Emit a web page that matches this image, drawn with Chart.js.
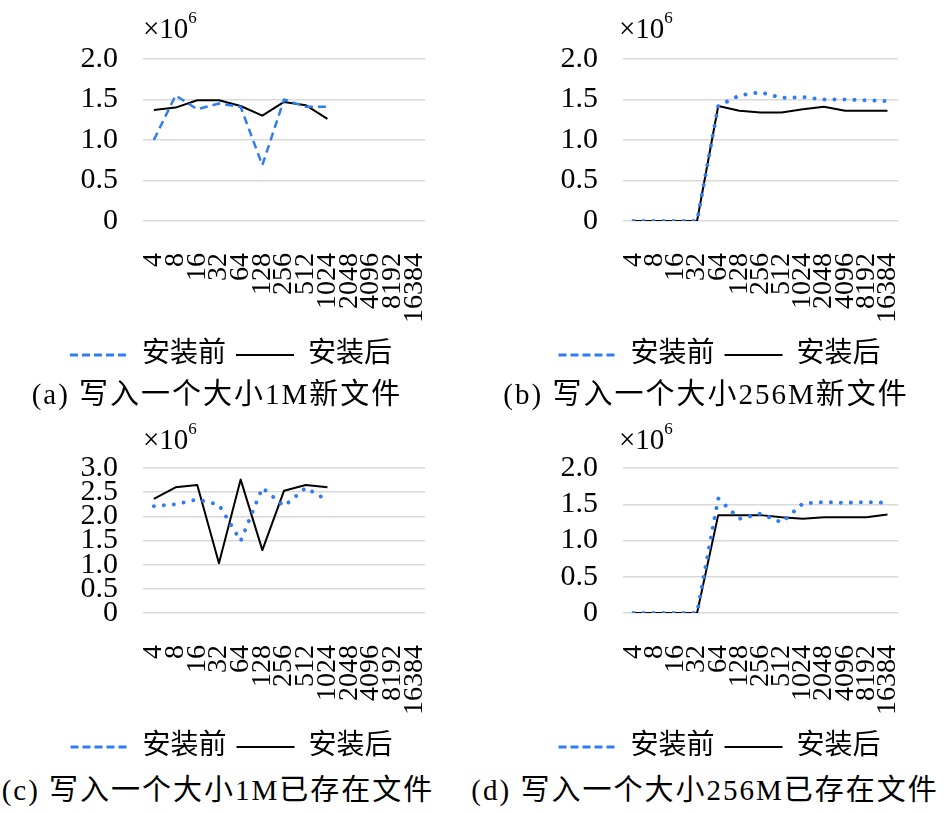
<!DOCTYPE html>
<html><head><meta charset="utf-8">
<script src="https://cdn.jsdelivr.net/npm/chart.js@4.4.0/dist/chart.umd.min.js"></script>
<style>
body{margin:0;background:#fff;}
#wrap{position:relative;width:946px;height:813px;overflow:hidden;background:#fff;}
canvas{position:absolute;}
.exp{position:absolute;font-family:'Liberation Serif','Times New Roman',serif;font-size:29px;line-height:1;color:#000;white-space:nowrap;}
.exp sup{font-size:17px;vertical-align:top;position:relative;top:-5px;}
.cap{position:absolute;font-family:'Liberation Serif','Noto Sans CJK SC',serif;font-size:29px;line-height:1;white-space:nowrap;transform:translateX(-50%);color:#000;letter-spacing:2px;}
</style></head>
<body>
<div id="wrap">
  <canvas id="ca" width="473" height="379" style="left:0;top:0"></canvas>
  <canvas id="cb" width="473" height="379" style="left:473px;top:0"></canvas>
  <canvas id="cc" width="473" height="362" style="left:0;top:409px"></canvas>
  <canvas id="cd" width="473" height="362" style="left:473px;top:409px"></canvas>
  <div class="exp" style="left:143px;top:14px">×10<sup>6</sup></div>
  <div class="exp" style="left:619px;top:14px">×10<sup>6</sup></div>
  <div class="exp" style="left:143px;top:425px">×10<sup>6</sup></div>
  <div class="exp" style="left:619px;top:425px">×10<sup>6</sup></div>
  <div class="cap" style="left:217px;top:380px">(a) 写入一个大小1M新文件</div>
  <div class="cap" style="left:706px;top:380px">(b) 写入一个大小256M新文件</div>
  <div class="cap" style="left:218px;top:776px">(c) 写入一个大小1M已存在文件</div>
  <div class="cap" style="left:705px;top:776px">(d) 写入一个大小256M已存在文件</div>
</div>
<script>
const categories = ['4','8','16','32','64','128','256','512','1024','2048','4096','8192','16384'];
const seriesNames = ['安装前','安装后'];
// values in units of 10^6
const aBefore = [1.00,1.55,1.38,1.45,1.41,0.69,1.50,1.41,1.41,null,null,null,null];
const aAfter  = [1.37,1.40,1.49,1.49,1.42,1.30,1.47,1.43,1.26,null,null,null,null];
const bBefore = [0,0,0,0,1.42,1.55,1.59,1.52,1.53,1.50,1.50,1.49,1.48];
const bAfter  = [0,0,0,0,1.42,1.36,1.34,1.34,1.38,1.41,1.36,1.36,1.36];
const cBefore = [2.21,2.25,2.35,2.24,1.49,2.59,2.21,2.59,2.33,null,null,null,null];
const cAfter  = [2.36,2.60,2.65,1.03,2.76,1.30,2.53,2.65,2.60,null,null,null,null];
const dBefore = [0,0,0,0,1.58,1.30,1.37,1.25,1.51,1.53,1.52,1.53,1.52];
const dAfter  = [0,0,0,0,1.35,1.35,1.35,1.32,1.30,1.32,1.32,1.32,1.36];
const yMaxA = 2.0, yMaxB = 2.0, yMaxC = 3.0, yMaxD = 2.0;

const BLUE = '#2F7CF4';
const SERIF = "'Liberation Serif','Times New Roman','Noto Sans CJK SC',serif";

function makeChart(id, before, after, yMax, o){
  new Chart(document.getElementById(id), {
    type:'line',
    data:{labels:categories, datasets:[
      {label:seriesNames[0], data:before, borderColor:BLUE, backgroundColor:BLUE,
       borderWidth:o.dots?4:2.5, borderDash:o.dots?[0.01,10]:[8,5],
       borderCapStyle:o.dots?'round':'butt', borderJoinStyle:'round',
       pointRadius:0, fill:false, tension:0, spanGaps:false},
      {label:seriesNames[1], data:after, borderColor:'#000', backgroundColor:'#000',
       borderWidth:2, pointRadius:0, fill:false, tension:0, borderJoinStyle:'round',
       spanGaps:false}
    ]},
    options:{
      responsive:false, animation:false,
      layout:{padding:{left:o.padL, right:o.padR, top:59, bottom:0}},
      scales:{
        x:{type:'category', offset:true, grid:{display:false}, border:{display:false},
           ticks:{autoSkip:false, minRotation:90, maxRotation:90, padding:24, color:'#000',
                  font:{family:SERIF, size:28}},
           afterFit:s=>{s.height=110;}},
        y:{min:0, max:yMax,
           ticks:{stepSize:0.5, autoSkip:false, padding:25, color:'#000', font:{family:SERIF, size:30},
                  callback:v=> v===0 ? '0' : Number(v).toFixed(1)},
           grid:{color:'#d9d9d9', lineWidth:1.5, drawTicks:false}, border:{display:false},
           afterFit:s=>{s.width=o.yW;}}
      },
      plugins:{
        tooltip:{enabled:false},
        legend:{position:'bottom',
          labels:{usePointStyle:true, pointStyle:'line', pointStyleWidth:58, padding:10,
            color:'#000', font:{family:SERIF, size:28},
            generateLabels:chart=>{
              const items = Chart.defaults.plugins.legend.labels.generateLabels(chart);
              items.forEach(it=>{
                if(it.datasetIndex===0){it.lineDash=[8,4]; it.lineCap='butt'; it.lineWidth=3;}
                else {it.lineDash=[]; it.lineWidth=2;}
              });
              return items;
            }}}
      }
    }
  });
}
makeChart('ca', aBefore, aAfter, yMaxA, {padL:19, padR:30, yW:124, dots:false});
makeChart('cb', bBefore, bAfter, yMaxB, {padL:44, padR:24, yW:106, dots:true});
makeChart('cc', cBefore, cAfter, yMaxC, {padL:19, padR:29, yW:124, dots:true});
makeChart('cd', dBefore, dAfter, yMaxD, {padL:44, padR:24, yW:106, dots:true});
</script>
</body></html>
